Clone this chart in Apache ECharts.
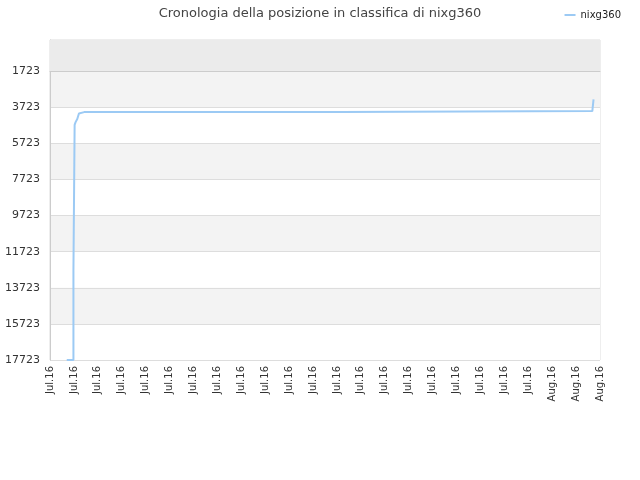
<!DOCTYPE html>
<html>
<head>
<meta charset="utf-8">
<script src="https://cdn.jsdelivr.net/npm/echarts@6/dist/echarts.min.js"></script>
<style>
    html, body { margin: 0; padding: 0; background: #fff; }
    #main { width: 640px; height: 480px; }
</style>
</head>
<body>
<div id="main"></div>
<script>
// x axis tick labels (one per tick, tick index = x unit)
var tickLabels = ['Jul.16','Jul.16','Jul.16','Jul.16','Jul.16','Jul.16','Jul.16','Jul.16',
    'Jul.16','Jul.16','Jul.16','Jul.16','Jul.16','Jul.16','Jul.16','Jul.16',
    'Jul.16','Jul.16','Jul.16','Jul.16','Jul.16','Aug.16','Aug.16','Aug.16'];

// position over time, x in tick units, rank
var timeX = [0.70, 0.98, 0.98, 1.02, 1.03, 1.07, 1.14, 1.21, 1.25, 1.43, 12.17, 12.17, 22.68, 22.69, 22.73];
var ranks = [17723, 17723, 12780, 12780, 4700, 4550, 4380, 4070, 4030, 3995, 3995, 3935, 3935, 3800, 3290];

var firstTick = 1723;   // first labelled rank
var worstRank = 17723;
var bestRank = 1;

function reShift(r) {
    return r - firstTick;
}

function drawRank(divID) {
    var points = [];
    for (var i = 0; i < timeX.length; i++) {
        points.push([timeX[i], reShift(ranks[i])]);
    }
    var myChart = echarts.init(document.getElementById(divID));
    var font = 'DejaVu Sans';
    var option = {
        animation: false,
        title: {
            text: 'Cronologia della posizione in classifica di nixg360',
            left: 'center',
            top: 2,
            textStyle: { fontFamily: font, fontSize: 13, fontWeight: 'normal', color: '#444' }
        },
        legend: {
            right: 14,
            top: 5,
            icon: 'rect',
            itemWidth: 11,
            itemHeight: 2,
            itemGap: 6,
            textStyle: { fontFamily: font, fontSize: 10, color: '#222' },
            data: ['nixg360']
        },
        grid: {
            left: 50,
            right: 40,
            top: 40,
            bottom: 120,
            show: true,
            borderColor: '#ddd',
            borderWidth: 1
        },
        xAxis: {
            type: 'value',
            min: 0,
            max: tickLabels.length - 1,
            interval: 1,
            axisLine: { lineStyle: { color: '#ccc' } },
            axisTick: { show: false },
            splitLine: { show: false },
            axisLabel: {
                rotate: 90,
                margin: 6,
                fontFamily: font,
                fontSize: 10,
                color: '#333',
                formatter: function (v) {
                    return tickLabels[Math.round(v)] || '';
                }
            }
        },
        yAxis: {
            type: 'value',
            inverse: true,
            min: reShift(bestRank),
            max: reShift(worstRank),
            splitNumber: 9,
            axisLine: { show: true, lineStyle: { color: '#ccc' } },
            axisTick: { show: false },
            splitLine: { lineStyle: { color: '#ddd' } },
            splitArea: { show: true, areaStyle: { color: ['#ffffff', '#f3f3f3'] } },
            axisLabel: {
                margin: 10,
                fontFamily: font,
                fontSize: 11,
                color: '#333',
                formatter: function (v) {
                    return v < 0 ? '' : String(v + firstTick);
                }
            }
        },
        series: [{
            name: 'nixg360',
            type: 'line',
            data: points,
            symbol: 'none',
            lineStyle: { width: 2, color: '#9ccaf4' },
            itemStyle: { color: '#9ccaf4' },
            markArea: {
                silent: true,
                itemStyle: { color: '#ebebeb' },
                data: [[{ yAxis: reShift(bestRank) }, { yAxis: 0 }]]
            }
        }]
    };
    myChart.setOption(option);
}

drawRank('main');
</script>
</body>
</html>
